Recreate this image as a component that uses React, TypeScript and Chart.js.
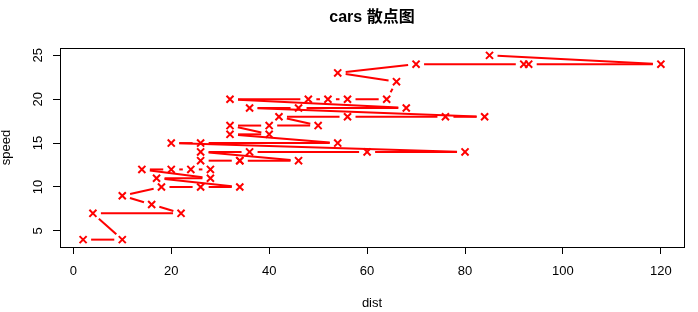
import React, { useEffect, useRef } from "react";
import { Chart, registerables } from "chart.js";

Chart.register(...registerables);

// R "cars" dataset, in row order
const speed = [4, 4, 7, 7, 8, 9, 10, 10, 10, 11, 11, 12, 12, 12, 12, 13, 13, 13, 13, 14, 14, 14, 14, 15, 15, 15, 16, 16, 17, 17, 17, 18, 18, 18, 18, 19, 19, 19, 20, 20, 20, 20, 20, 22, 23, 24, 24, 24, 24, 25];
const dist = [2, 10, 4, 22, 16, 10, 18, 26, 34, 17, 28, 14, 20, 24, 28, 26, 34, 34, 46, 26, 36, 60, 80, 20, 26, 54, 32, 40, 32, 40, 50, 42, 56, 76, 84, 36, 46, 68, 32, 48, 52, 56, 64, 66, 54, 70, 92, 93, 120, 85];
const xTicks = [0, 20, 40, 60, 80, 100, 120];
const yTicks = [5, 10, 15, 20, 25];
const titleText = "cars 散点图";
const xTitle = "dist";
const yTitle = "speed";

const FONT = "'Liberation Sans', Arial, 'Noto Sans CJK SC', sans-serif";
const RED = "#ff0000";

export default function App() {
  const ref = useRef<HTMLCanvasElement | null>(null);

  useEffect(() => {
    const canvas = ref.current;
    if (!canvas) return;

    const xmin = Math.min(...dist), xmax = Math.max(...dist);
    const ymin = Math.min(...speed), ymax = Math.max(...speed);
    const xpad = (xmax - xmin) * 0.04;
    const ypad = (ymax - ymin) * 0.04;

    const gapLines = {
      id: "gapLines",
      beforeDatasetsDraw(chart: any) {
        const meta = chart.getDatasetMeta(0);
        const ctx = chart.ctx;
        const gap = 8;
        ctx.save();
        ctx.strokeStyle = RED;
        ctx.lineWidth = 2;
        ctx.lineCap = "butt";
        for (let i = 0; i < meta.data.length - 1; i++) {
          const a = meta.data[i], b = meta.data[i + 1];
          const dx = b.x - a.x, dy = b.y - a.y;
          const d = Math.hypot(dx, dy);
          if (d <= 2 * gap) continue;
          const ux = dx / d, uy = dy / d;
          ctx.beginPath();
          ctx.moveTo(a.x + ux * gap, a.y + uy * gap);
          ctx.lineTo(b.x - ux * gap, b.y - uy * gap);
          ctx.stroke();
        }
        ctx.restore();
      },
      afterDraw(chart: any) {
        const ctx = chart.ctx;
        const { left, right, top, bottom } = chart.chartArea;
        ctx.save();
        ctx.strokeStyle = "#000";
        ctx.lineWidth = 1;
        ctx.strokeRect(Math.round(left) + 0.5, Math.round(top) + 0.5, Math.round(right - left), Math.round(bottom - top));
        // rotated y tick labels (R style, las = 0)
        const ys = chart.scales.y;
        ctx.fillStyle = "#000";
        ctx.font = `13px ${FONT}`;
        ctx.textAlign = "center";
        ctx.textBaseline = "middle";
        ys.ticks.forEach((t: any) => {
          const py = ys.getPixelForValue(t.value);
          ctx.save();
          ctx.translate(ys.right - 7 - 15, py);
          ctx.rotate(-Math.PI / 2);
          ctx.fillText(String(t.value), 0, 0);
          ctx.restore();
        });
        ctx.restore();
      },
    };

    const chart = new Chart(canvas, {
      type: "scatter",
      data: {
        datasets: [
          {
            data: dist.map((d, i) => ({ x: d, y: speed[i] })),
            showLine: false,
            pointStyle: "crossRot",
            pointRadius: 5,
            pointHoverRadius: 5,
            pointBorderWidth: 2,
            pointBorderColor: RED,
            pointBackgroundColor: RED,
          },
        ],
      },
      options: {
        animation: false,
        responsive: false,
        devicePixelRatio: 1,
        events: [],
        layout: { padding: { top: 0, right: 14, bottom: 0, left: 0 } },
        plugins: {
          legend: { display: false },
          tooltip: { enabled: false },
          title: {
            display: true,
            text: titleText,
            fullSize: false,
            color: "#000",
            font: { family: FONT, size: 16, weight: "bold" },
            padding: { top: 8, bottom: 20.8 },
          },
        },
        scales: {
          x: {
            type: "linear",
            min: xmin - xpad,
            max: xmax + xpad,
            afterBuildTicks: (s: any) => {
              s.ticks = xTicks.map((v) => ({ value: v }));
            },
            afterFit: (s: any) => {
              s.height = 65;
            },
            border: { display: false },
            grid: { drawOnChartArea: false, drawTicks: true, tickLength: 7, color: "#000", lineWidth: 1 },
            ticks: {
              includeBounds: false,
              color: "#000",
              padding: 10,
              maxRotation: 0,
              autoSkip: false,
              font: { family: FONT, size: 13 },
            },
            title: {
              display: true,
              text: xTitle,
              color: "#000",
              font: { family: FONT, size: 13 },
              padding: { top: 0, bottom: 1 },
            },
          },
          y: {
            type: "linear",
            min: ymin - ypad,
            max: ymax + ypad,
            afterBuildTicks: (s: any) => {
              s.ticks = yTicks.map((v) => ({ value: v }));
            },
            afterFit: (s: any) => {
              s.width = 60;
            },
            border: { display: false },
            grid: { drawOnChartArea: false, drawTicks: true, tickLength: 7, color: "#000", lineWidth: 1 },
            ticks: { display: false, includeBounds: false, autoSkip: false },
            title: {
              display: true,
              text: yTitle,
              color: "#000",
              font: { family: FONT, size: 13 },
              padding: { top: -1, bottom: 0 },
            },
          },
        },
      },
      plugins: [gapLines],
    } as any);

    return () => chart.destroy();
  }, []);

  return (
    <div style={{ position: "absolute", left: 0, top: 0, width: 698, height: 312, background: "#fff" }}>
      <canvas ref={ref} width={698} height={312} style={{ display: "block" }} />
    </div>
  );
}
